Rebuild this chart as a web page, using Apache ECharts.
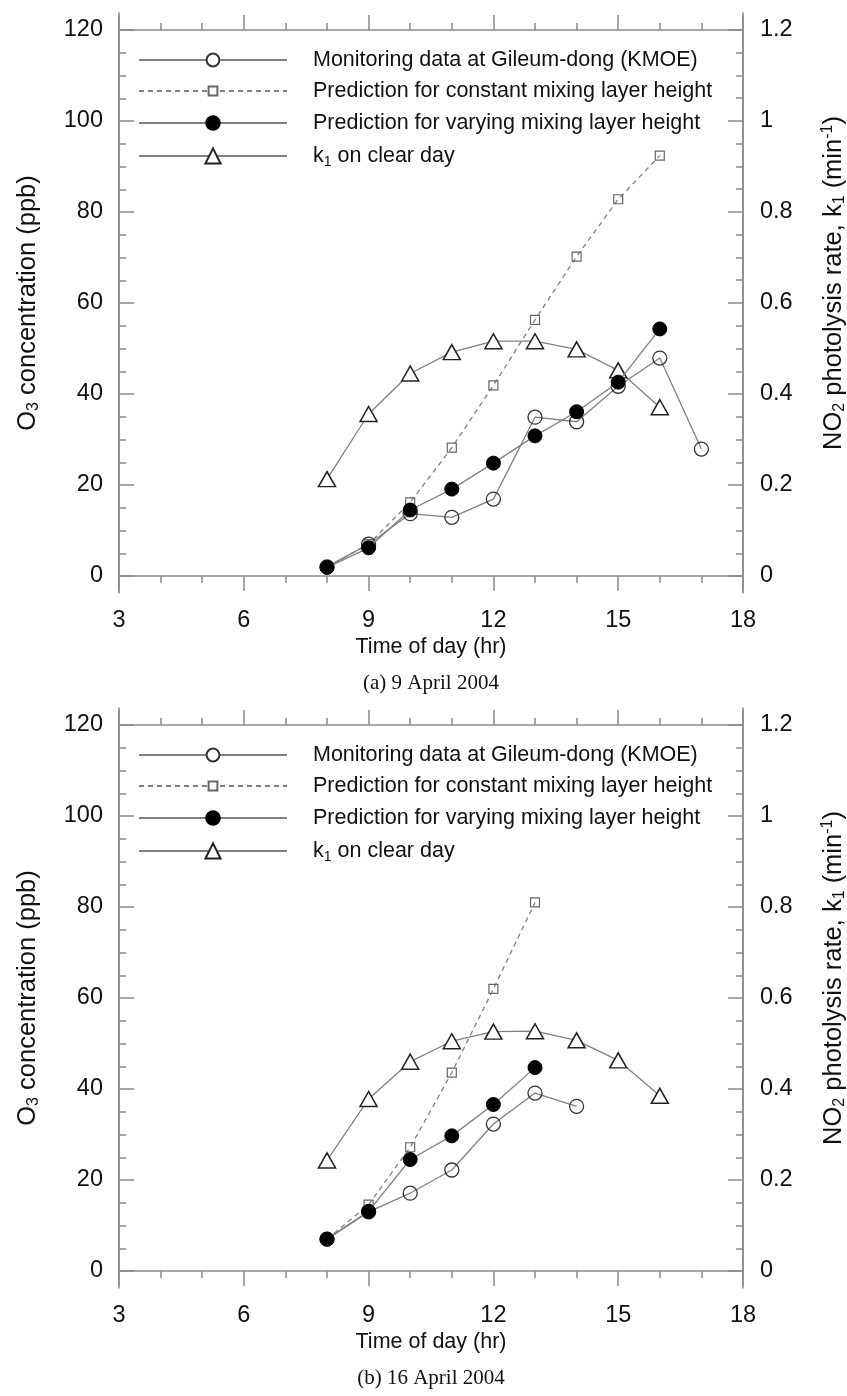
<!DOCTYPE html>
<html><head><meta charset="utf-8">
<script src="https://cdn.jsdelivr.net/npm/echarts@6/dist/echarts.min.js"></script>
<style>html,body{margin:0;padding:0;background:#fff}#c{width:847px;height:1396px}</style>
</head><body><div id="c"></div><script>
// ---- data: (a) 9 April 2004 ----
const hoursObsA = [8, 9, 10, 11, 12, 13, 14, 15, 16, 17];
const obsA      = [2, 7, 13.7, 12.9, 16.9, 34.9, 33.9, 41.7, 47.9, 27.9];
const hoursPredA = [8, 9, 10, 11, 12, 13, 14, 15, 16];
const constA    = [2, 7, 16.2, 28.2, 41.9, 56.3, 70.2, 82.8, 92.4];
const varA      = [1.9, 6.2, 14.5, 19.1, 24.8, 30.8, 36.1, 42.6, 54.3];
const hoursK1A  = [8, 9, 10, 11, 12, 13, 14, 15, 16];
const k1A       = [0.213, 0.356, 0.445, 0.492, 0.516, 0.516, 0.498, 0.452, 0.371];
// ---- data: (b) 16 April 2004 ----
const hoursObsB = [8, 9, 10, 11, 12, 13, 14];
const obsB      = [7, 13, 17.1, 22.2, 32.3, 39.1, 36.2];
const hoursPredB = [8, 9, 10, 11, 12, 13];
const constB    = [7, 14.6, 27.2, 43.6, 62.0, 81.0];
const varB      = [7, 13.1, 24.5, 29.7, 36.6, 44.7];
const hoursK1B  = [8, 9, 10, 11, 12, 13, 14, 15, 16];
const k1B       = [0.243, 0.378, 0.460, 0.505, 0.526, 0.527, 0.507, 0.463, 0.385];
// ---- axis ticks / text ----
const xTicks = {min: 3, max: 18, interval: 3};
const yLeftTicks = {min: 0, max: 120, interval: 20};
const yRightTicks = {min: 0, max: 1.2, interval: 0.2};
const seriesNames = ['Monitoring data at Gileum-dong (KMOE)', 'Prediction for constant mixing layer height', 'Prediction for varying mixing layer height', 'k1 on clear day'];
const captions = ['(a) 9 April 2004', '(b) 16 April 2004'];

const FONT = 'Liberation Sans, Arial, sans-serif';
const AX = '#8a8a8a';
const LINE = '#808080';
const TXT = '#111';
const FS = 21.5;
const FT = 25.5;

const rich = {
  t: {fontSize: FS, fontFamily: FONT, color: TXT, lineHeight: 26, verticalAlign: 'middle'},
  s: {fontSize: 14, fontFamily: FONT, color: TXT, verticalAlign: 'bottom'},
  g: {width: 21}
};
const richT = {
  t: {fontSize: FT, fontFamily: FONT, color: TXT, lineHeight: 28, verticalAlign: 'middle'},
  s: {fontSize: 16, fontFamily: FONT, color: TXT, verticalAlign: 'bottom'},
  p: {fontSize: 16, fontFamily: FONT, color: TXT, verticalAlign: 'top'}
};

const chartTops = [30, 725];
const plotH = 546, ext = 17;
const grids = [], xAxes = [], yAxes = [], series = [], legends = [], titles = [];

function pairs(h, v) { return h.map((x, i) => [x, v[i]]); }

chartTops.forEach((top, ci) => {
  const gMain = grids.length;
  grids.push({left: 119, width: 624, top: top, height: plotH, containLabel: false, outerBoundsMode: 'none'});
  const gFrame = grids.length;
  grids.push({left: 119, width: 624, top: top - ext, height: plotH + 2 * ext, containLabel: false, outerBoundsMode: 'none'});

  const tickCommon = {show: true, length: 15, lineStyle: {color: AX, width: 1.5}};
  const minorCommon = {show: true, length: 7, lineStyle: {color: AX, width: 1.5}};
  const lineCommon = {show: true, onZero: false, lineStyle: {color: AX, width: 1.5}};

  const xBottom = xAxes.length;
  xAxes.push(Object.assign({type: 'value', gridIndex: gMain, position: 'bottom',
    axisLine: lineCommon, axisTick: Object.assign({inside: false}, tickCommon),
    minorTick: Object.assign({splitNumber: 3}, minorCommon),
    splitLine: {show: false},
    axisLabel: {fontSize: 23.5, fontFamily: FONT, color: TXT, margin: 33},
    name: 'Time of day (hr)', nameLocation: 'middle', nameGap: 60,
    nameTextStyle: {fontSize: FS, fontFamily: FONT, color: TXT}}, xTicks));
  xAxes.push(Object.assign({type: 'value', gridIndex: gMain, position: 'top',
    axisLine: lineCommon, axisTick: Object.assign({inside: false}, tickCommon),
    minorTick: Object.assign({splitNumber: 3}, minorCommon),
    splitLine: {show: false}, axisLabel: {show: false}}, xTicks));
  xAxes.push({type: 'value', gridIndex: gFrame, show: false, min: 0, max: 1});

  const yLeft = yAxes.length;
  yAxes.push(Object.assign({type: 'value', gridIndex: gMain, position: 'left',
    axisLine: lineCommon, axisTick: Object.assign({inside: true}, tickCommon),
    minorTick: Object.assign({splitNumber: 4}, minorCommon),
    splitLine: {show: false},
    axisLabel: {fontSize: 23.5, fontFamily: FONT, color: TXT, margin: 16},
    name: '{t|O}{s|3}{t| concentration (ppb)}', nameLocation: 'middle', nameRotate: 90, nameGap: 77,
    nameTextStyle: {rich: richT}}, yLeftTicks));
  const yRight = yAxes.length;
  yAxes.push(Object.assign({type: 'value', gridIndex: gMain, position: 'right',
    axisLine: lineCommon, axisTick: Object.assign({inside: true}, tickCommon),
    minorTick: Object.assign({splitNumber: 4}, minorCommon),
    splitLine: {show: false},
    axisLabel: {fontSize: 23.5, fontFamily: FONT, color: TXT, margin: 17,
      formatter: v => String(+v.toFixed(2))},
    name: '{t|NO}{s|2}{t| photolysis rate, k}{s|1}{t| (min}{p|-1}{t|)}', nameLocation: 'middle', nameRotate: 90, nameGap: 77,
    nameTextStyle: {rich: richT, padding: [0, 0, 0, 40]}}, yRightTicks));
  ['left', 'right'].forEach(pos => yAxes.push({type: 'value', gridIndex: gFrame, position: pos, min: 0, max: 1,
    axisLine: {show: true, lineStyle: {color: AX, width: 1.5}}, axisTick: {show: false},
    axisLabel: {show: false}, splitLine: {show: false}}));

  const d = ci === 0
    ? {ho: hoursObsA, obs: obsA, hp: hoursPredA, c: constA, v: varA, hk: hoursK1A, k: k1A}
    : {ho: hoursObsB, obs: obsB, hp: hoursPredB, c: constB, v: varB, hk: hoursK1B, k: k1B};

  series.push({name: seriesNames[3], type: 'line', xAxisIndex: xBottom, yAxisIndex: yRight,
    data: pairs(d.hk, d.k), symbol: 'triangle', symbolSize: [17, 15],
    lineStyle: {color: LINE, width: 1.3}, itemStyle: {color: '#fff', borderColor: '#222', borderWidth: 1.5}, z: 2});
  series.push({name: seriesNames[1], type: 'line', xAxisIndex: xBottom, yAxisIndex: yLeft,
    data: pairs(d.hp, d.c), symbol: 'rect', symbolSize: 9,
    lineStyle: {color: LINE, width: 1.3, type: [5, 4]}, itemStyle: {color: 'transparent', borderColor: '#666', borderWidth: 1.2}, z: 3});
  series.push({name: seriesNames[0], type: 'line', xAxisIndex: xBottom, yAxisIndex: yLeft,
    data: pairs(d.ho, d.obs), symbol: 'circle', symbolSize: 14,
    lineStyle: {color: LINE, width: 1.3}, itemStyle: {color: 'transparent', borderColor: '#333', borderWidth: 1.3}, z: 4});
  series.push({name: seriesNames[2], type: 'line', xAxisIndex: xBottom, yAxisIndex: yLeft,
    data: pairs(d.hp, d.v), symbol: 'circle', symbolSize: 14,
    lineStyle: {color: LINE, width: 1.3}, itemStyle: {color: '#000', borderColor: '#000', borderWidth: 1}, z: 5});

  const rowCenters = [62, 93, 125, 158].map(y => y + top - 30);
  const iconH = [16, 11, 17, 19];
  seriesNames.forEach((nm, i) => {
    legends.push({show: true, orient: 'vertical', left: 138, top: rowCenters[i] - 13, padding: 0,
      itemWidth: 148, itemHeight: iconH[i], selectedMode: false,
      data: [{name: nm, itemStyle: {color: i === 2 ? '#000' : '#fff'}}],
      formatter: n => n === seriesNames[3] ? '{g|}{t|k}{s|1}{t| on clear day}' : '{g|}{t|' + n + '}',
      textStyle: {rich: rich}});
  });

  titles.push({text: captions[ci], left: 431, textAlign: 'center', top: top + 643, padding: 0,
    textStyle: {fontFamily: 'Liberation Serif, Times New Roman, serif', fontSize: 21, fontWeight: 'normal', color: TXT}});
});

const chart = echarts.init(document.getElementById('c'), null, {renderer: 'canvas'});
chart.setOption({
  animation: false, backgroundColor: '#fff',
  title: titles, grid: grids, xAxis: xAxes, yAxis: yAxes, legend: legends, series: series
});
</script></body></html>
